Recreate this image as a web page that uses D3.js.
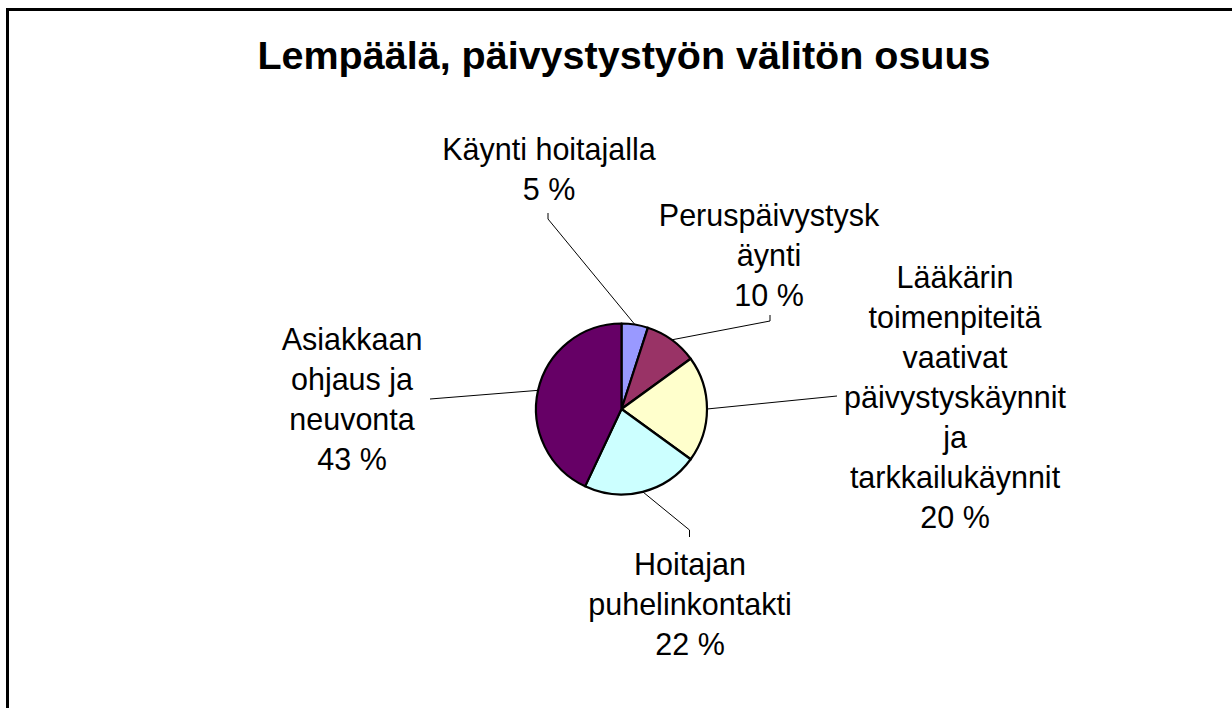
<!DOCTYPE html>
<html><head><meta charset="utf-8">
<script src="https://cdn.jsdelivr.net/npm/d3@7"></script>
<style>html,body{margin:0;padding:0;background:#fff;overflow:hidden}</style>
</head><body>
<svg id="c" width="1232" height="708"></svg>
<script>
const title = "Lempäälä, päivystystyön välitön osuus";
const categories = [
  "Käynti hoitajalla",
  "Peruspäivystyskäynti",
  "Lääkärin toimenpiteitä vaativat päivystyskäynnit ja tarkkailukäynnit",
  "Hoitajan puhelinkontakti",
  "Asiakkaan ohjaus ja neuvonta"
];
const values = [5, 10, 20, 22, 43];
const labelLines = [
  ["Käynti hoitajalla", "5 %"],
  ["Peruspäivystysk", "äynti", "10 %"],
  ["Lääkärin", "toimenpiteitä", "vaativat", "päivystyskäynnit", "ja", "tarkkailukäynnit", "20 %"],
  ["Hoitajan", "puhelinkontakti", "22 %"],
  ["Asiakkaan", "ohjaus ja", "neuvonta", "43 %"]
];
const colors = ["#9999FF", "#993366", "#FFFFCC", "#CCFFFF", "#660066"];

// layout (positions of labels, elbow points of leader lines)
const cx = 621.5, cy = 409, R = 85.5;
const labelPos = [
  {x: 549, y: 160, lead: [[548, 219], [548, 213]]},
  {x: 769, y: 226, lead: [[770, 321], [770, 315]]},
  {x: 955, y: 288, lead: [[837, 396]]},
  {x: 690, y: 575, lead: [[689.5, 530], [689.5, 537]]},
  {x: 352, y: 350, lead: [[430, 399]]}
];
const lineH = 40;

const svg = d3.select("#c");
svg.append("rect").attr("x", 7.5).attr("y", 9.5).attr("width", 1240).attr("height", 720)
  .attr("fill", "#fff").attr("stroke", "#000").attr("stroke-width", 3);

svg.append("text").attr("x", 624).attr("y", 69).attr("text-anchor", "middle")
  .attr("font-family", "Liberation Sans, Arial, sans-serif").attr("font-weight", "bold")
  .attr("font-size", 39.5).text(title);

const pie = d3.pie().sort(null).value(d => d)(values);
const arc = d3.arc().innerRadius(0).outerRadius(R);
const g = svg.append("g").attr("transform", `translate(${cx},${cy})`);
g.selectAll("path").data(pie).join("path")
  .attr("d", arc).attr("fill", (d, i) => colors[i])
  .attr("stroke", "#000").attr("stroke-width", 2.2).attr("stroke-linejoin", "round");

const anchorArc = d3.arc().innerRadius(R).outerRadius(R);
pie.forEach((d, i) => {
  const c = anchorArc.centroid(d);
  const pts = [[cx + c[0], cy + c[1]], ...labelPos[i].lead];
  svg.append("path").attr("d", d3.line()(pts)).attr("fill", "none")
    .attr("stroke", "#000").attr("stroke-width", 1);
  const t = svg.append("text").attr("text-anchor", "middle")
    .attr("font-family", "Liberation Sans, Arial, sans-serif").attr("font-size", 30.5).attr("fill", "#000");
  labelLines[i].forEach((s, k) => {
    t.append("tspan").attr("x", labelPos[i].x).attr("y", labelPos[i].y + k * lineH).text(s);
  });
});
</script>
</body></html>
